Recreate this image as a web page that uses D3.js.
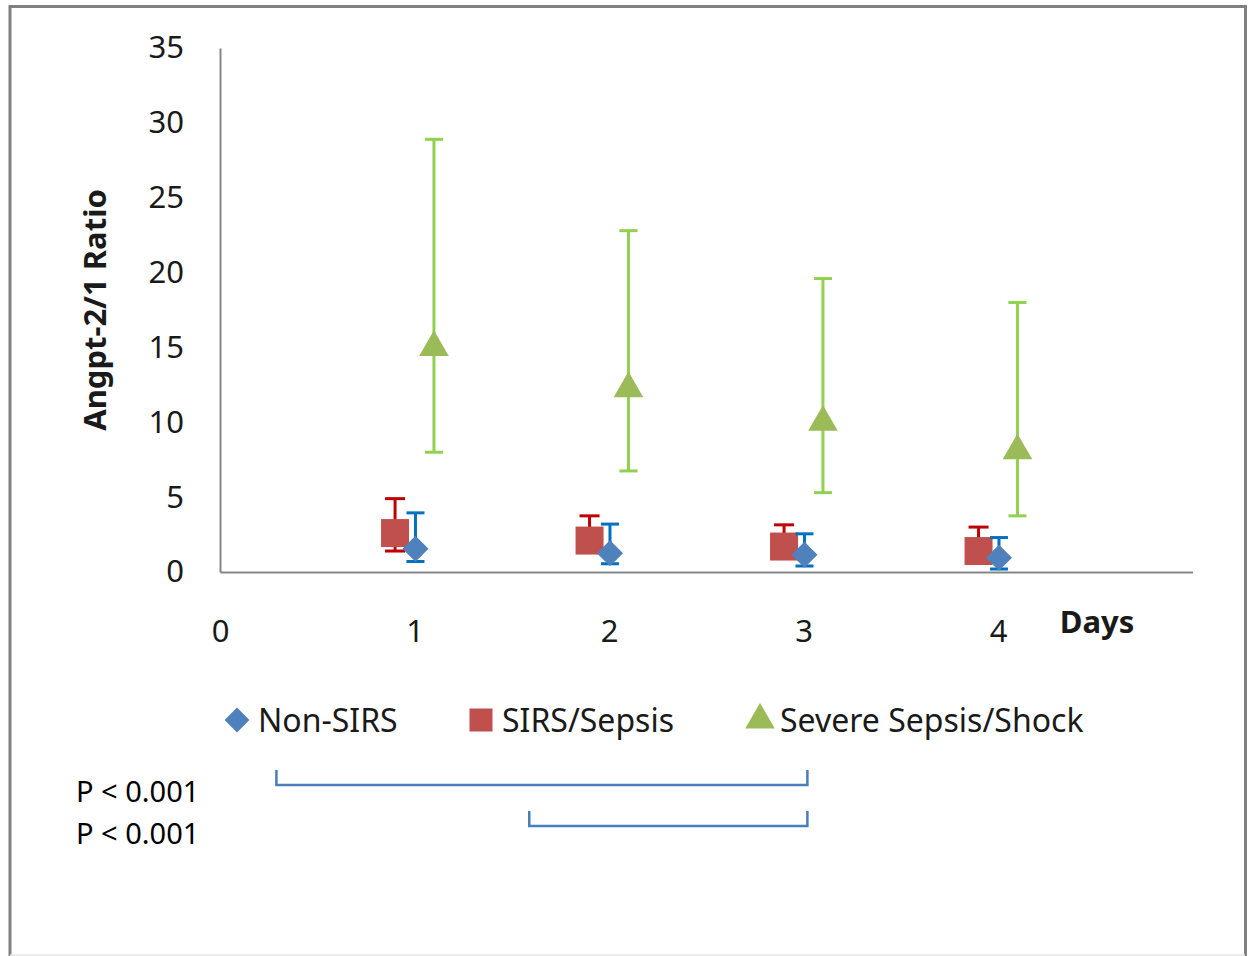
<!DOCTYPE html>
<html>
<head>
<meta charset="utf-8">
<script src="https://cdn.jsdelivr.net/npm/d3@7"></script>
<style>
  body { margin: 0; background: #fff; }
  svg text { font-family: "Noto Sans", sans-serif; }
</style>
</head>
<body>
<div id="graphicContainer"></div>
<script>
// chart values
const days = [1, 2, 3, 4];
const xTicks = [0, 1, 2, 3, 4];
const yTicks = [0, 5, 10, 15, 20, 25, 30, 35];

const nonSirsMean = [1.55, 1.25, 1.15, 0.95];
const nonSirsLow = [0.7, 0.55, 0.4, 0.2];
const nonSirsHigh = [3.95, 3.2, 2.55, 2.3];

const sirsMean = [2.6, 2.1, 1.7, 1.4];
const sirsLow = [1.4, 1.5, 1.3, 1.0];
const sirsHigh = [4.9, 3.75, 3.15, 3.0];

const severeMean = [15.0, 12.25, 10.0, 8.1];
const severeLow = [8.0, 6.75, 5.3, 3.75];
const severeHigh = [28.9, 22.8, 19.6, 18.0];

const seriesNames = ["Non-SIRS", "SIRS/Sepsis", "Severe Sepsis/Shock"];
const pLabels = ["P < 0.001", "P < 0.001"];

function renderChart() {
    const svg = d3.select("#graphicContainer").append("svg")
        .attr("width", 1253)
        .attr("height", 956);

    // outer frame
    svg.append("path")
        .attr("d", "M10,956V6.5H1245.5V956")
        .attr("fill", "none")
        .attr("stroke", "#808080")
        .attr("stroke-width", 3);
    svg.append("line")
        .attr("x1", 10).attr("x2", 1245).attr("y1", 955).attr("y2", 955)
        .attr("stroke", "#e6e6e6").attr("stroke-width", 1.5);

    const x = d3.scaleLinear().domain([0, 5]).range([220, 1192.5]);
    const y = d3.scaleLinear().domain([0, 35]).range([572, 48]);

    // y axis
    const yAxis = svg.append("g")
        .attr("transform", "translate(220,0)")
        .call(d3.axisLeft(y).tickValues(yTicks).tickSizeInner(0).tickSizeOuter(0).tickPadding(36));
    yAxis.select(".domain").attr("stroke", "#868686").attr("stroke-width", 2);
    yAxis.selectAll("text").attr("font-size", 31).attr("fill", "#1a1a1a")
        .style("font-family", "'Noto Sans', sans-serif");

    // x axis (labels sit well below the line)
    const xAxis = svg.append("g")
        .attr("transform", "translate(0,572)")
        .call(d3.axisBottom(x).tickValues(xTicks).tickFormat(d3.format("d"))
            .tickSizeInner(0).tickSizeOuter(0).tickPadding(48));
    xAxis.select(".domain").attr("stroke", "#868686").attr("stroke-width", 2);
    xAxis.selectAll("text").attr("font-size", 31).attr("fill", "#1a1a1a")
        .style("font-family", "'Noto Sans', sans-serif");

    // axis titles
    svg.append("text")
        .attr("x", 1097).attr("y", 633)
        .attr("text-anchor", "middle")
        .attr("font-size", 31).attr("font-weight", "bold").attr("fill", "#1a1a1a")
        .text("Days");
    svg.append("text")
        .attr("transform", "translate(106,310) rotate(-90)")
        .attr("text-anchor", "middle")
        .attr("font-size", 31).attr("font-weight", "bold").attr("fill", "#1a1a1a")
        .text("Angpt-2/1 Ratio");

    // diamond = square turned 45 degrees
    const series = [
        { mean: sirsMean, low: sirsLow, high: sirsHigh, shift: -0.1,
          fill: "#c0504d", err: "#c00000", symbol: d3.symbolSquare, size: 784, rot: 0, cap: 20 },
        { mean: nonSirsMean, low: nonSirsLow, high: nonSirsHigh, shift: 0.005,
          fill: "#4f81bd", err: "#0070c0", symbol: d3.symbolSquare, size: 340, rot: 45, cap: 18 },
        { mean: severeMean, low: severeLow, high: severeHigh, shift: 0.1,
          fill: "#9bbb59", err: "#92d050", symbol: d3.symbolTriangle, size: 380, rot: 0, cap: 18 }
    ];

    series.forEach(function (s) {
        const g = svg.append("g");
        const pts = days.map(function (d, i) {
            return { x: d + s.shift, m: s.mean[i], lo: s.low[i], hi: s.high[i] };
        });

        g.selectAll("line.bar")
            .data(pts).enter().append("line")
            .attr("x1", d => x(d.x)).attr("x2", d => x(d.x))
            .attr("y1", d => y(d.lo)).attr("y2", d => y(d.hi))
            .attr("stroke", s.err).attr("stroke-width", 3);
        g.selectAll("line.top")
            .data(pts).enter().append("line")
            .attr("x1", d => x(d.x) - s.cap / 2).attr("x2", d => x(d.x) + s.cap / 2)
            .attr("y1", d => y(d.hi)).attr("y2", d => y(d.hi))
            .attr("stroke", s.err).attr("stroke-width", 3);
        g.selectAll("line.bottom")
            .data(pts).enter().append("line")
            .attr("x1", d => x(d.x) - s.cap / 2).attr("x2", d => x(d.x) + s.cap / 2)
            .attr("y1", d => y(d.lo)).attr("y2", d => y(d.lo))
            .attr("stroke", s.err).attr("stroke-width", 3);

        g.selectAll("path.mark")
            .data(pts).enter().append("path")
            .attr("transform", d => "translate(" + x(d.x) + "," + y(d.m) + ") rotate(" + s.rot + ")")
            .attr("d", d3.symbol().type(s.symbol).size(s.size))
            .attr("fill", s.fill);
    });

    // legend
    const legendX = [237, 481, 760];
    const legendTextX = [258, 502, 780];
    const legendFill = ["#4f81bd", "#c0504d", "#9bbb59"];
    const legendSymbol = [d3.symbolSquare, d3.symbolSquare, d3.symbolTriangle];
    const legendRot = [45, 0, 0];
    const legendSize = [310, 530, 380];
    seriesNames.forEach(function (name, i) {
        svg.append("path")
            .attr("transform", "translate(" + legendX[i] + ",720) rotate(" + legendRot[i] + ")")
            .attr("d", d3.symbol().type(legendSymbol[i]).size(legendSize[i]))
            .attr("fill", legendFill[i]);
        svg.append("text")
            .attr("x", legendTextX[i]).attr("y", 732)
            .attr("font-size", 32).attr("fill", "#1a1a1a")
            .text(name);
    });

    // significance brackets
    const bracketFrom = [0.29, 1.59];
    const bracketTo = [3.02, 3.02];
    const bracketY = [785, 826];
    bracketFrom.forEach(function (b, i) {
        svg.append("path")
            .attr("d", "M" + x(b) + "," + (bracketY[i] - 15) + "V" + bracketY[i] +
                "H" + x(bracketTo[i]) + "V" + (bracketY[i] - 15))
            .attr("fill", "none")
            .attr("stroke", "#4a7ebb").attr("stroke-width", 2.5);
        svg.append("text")
            .attr("x", 76).attr("y", 802 + i * 42)
            .attr("font-size", 29).attr("fill", "#000")
            .text(pLabels[i]);
    });
}

renderChart();
</script>
</body>
</html>
